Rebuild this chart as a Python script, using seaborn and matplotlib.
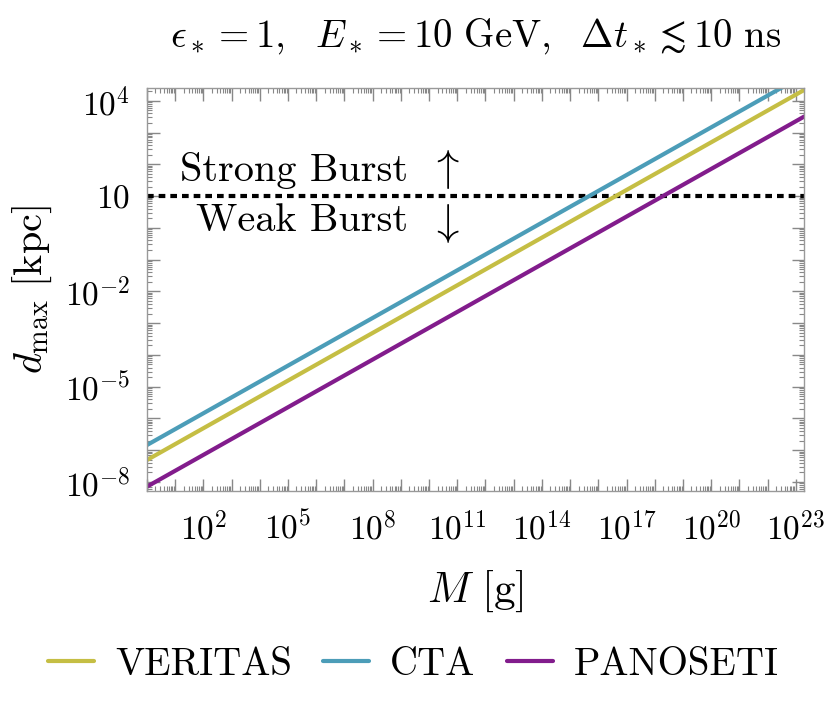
import numpy as np
import pandas as pd
import matplotlib
matplotlib.use("Agg")
import matplotlib.pyplot as plt
import matplotlib.ticker as mticker
import seaborn as sns

# mass range [g] and d_max [kpc] at both ends of each (straight, log-log) curve
mass = [1.0, 2.0e23]
d_veritas = [4.9e-8, 2.2e4]
d_cta = [1.45e-7, 6.5e4]
d_panoseti = [7.1e-9, 3.2e3]
detectors = ["VERITAS", "CTA", "PANOSETI"]
colors = ["#c5be44", "#4c9db8", "#821c8c"]
d_burst = 10.0

x_tick_exps = [2, 5, 8, 11, 14, 17, 20, 23]
y_tick_vals = [1e-8, 1e-5, 1e-2, 10, 1e4]
y_tick_labels = [r"$10^{-8}$", r"$10^{-5}$", r"$10^{-2}$", r"$10$", r"$10^{4}$"]

df = pd.DataFrame({
    "M": mass * 3,
    "d": d_veritas + d_cta + d_panoseti,
    "detector": [n for n in detectors for _ in mass],
})

sns.set_theme(style="ticks")
plt.rcParams["font.family"] = ["cmr10", "DejaVu Serif"]
plt.rcParams["mathtext.fontset"] = "cm"
plt.rcParams["axes.formatter.use_mathtext"] = True
plt.rcParams["axes.unicode_minus"] = False
plt.rcParams["text.color"] = "black"
plt.rcParams["axes.labelcolor"] = "black"


def y_fmt(v, pos):
    for t, lab in zip(y_tick_vals, y_tick_labels):
        if abs(np.log10(t) - np.log10(v)) < 0.01:
            return lab
    return ""


def x_fmt(v, pos):
    k = round(np.log10(v))
    return r"$10^{%d}$" % k if k in x_tick_exps else ""


fig = plt.figure(figsize=(8.3, 7.16), dpi=100)
ax = fig.add_axes([0.177, 0.314, 0.792, 0.563])

sns.lineplot(data=df, x="M", y="d", hue="detector", hue_order=detectors,
             palette=colors, lw=3, ax=ax, legend=True)
ax.axhline(d_burst, color="black", lw=3, dashes=(1.6, 1.2), zorder=1)

ax.set_xscale("log")
ax.set_yscale("log")
ax.set_xlim(1.0, 2.0e23)
ax.set_ylim(10 ** -8.29, 10 ** 4.4)

# every decade gets a major tick, only some get a label
ax.xaxis.set_major_locator(mticker.FixedLocator([10.0 ** k for k in range(0, 24)]))
ax.xaxis.set_major_formatter(mticker.FuncFormatter(x_fmt))
ax.yaxis.set_major_locator(mticker.FixedLocator([10.0 ** k for k in range(-9, 6)]))
ax.yaxis.set_major_formatter(mticker.FuncFormatter(y_fmt))
ax.xaxis.set_minor_locator(mticker.LogLocator(base=10, subs=np.arange(2, 10), numticks=100))
ax.yaxis.set_minor_locator(mticker.LogLocator(base=10, subs=np.arange(2, 10), numticks=100))
ax.xaxis.set_minor_formatter(mticker.NullFormatter())
ax.yaxis.set_minor_formatter(mticker.NullFormatter())

ax.tick_params(which="both", direction="in", top=True, right=True, color="#888888",
               labelcolor="black", labelsize=24)
ax.tick_params(which="major", length=9, width=1)
ax.tick_params(which="minor", length=3.6, width=0.8)
ax.tick_params(axis="x", which="major", pad=14)
ax.tick_params(axis="y", which="major", pad=12)
for s in ax.spines.values():
    s.set_color("#999999")
    s.set_linewidth(1)

ax.set_xlabel(r"$M\ [\mathrm{g}]$", fontsize=31, labelpad=16)
ax.set_ylabel(r"$d_{\max}\ [\mathrm{kpc}]$", fontsize=29, labelpad=8)
ax.set_title(r"$\epsilon_* = 1,\ \ E_* = 10\ \mathrm{GeV},\ \ \Delta t_* \lesssim 10\ \mathrm{ns}$",
             fontsize=28, pad=30)

ax.text(0.397, 0.795, "Strong Burst", transform=ax.transAxes, ha="right", va="center", fontsize=29)
ax.text(0.397, 0.670, "Weak Burst", transform=ax.transAxes, ha="right", va="center", fontsize=29)
ax.text(0.453, 0.800, r"$\uparrow$", transform=ax.transAxes, ha="center", va="center", fontsize=32)
ax.text(0.453, 0.665, r"$\downarrow$", transform=ax.transAxes, ha="center", va="center", fontsize=32)

handles, labels = ax.get_legend_handles_labels()
ax.get_legend().remove()
fig.legend(handles, labels, loc="center", bbox_to_anchor=(0.498, 0.071), ncol=3,
           frameon=False, fontsize=28, handlelength=1.18, handletextpad=0.55, columnspacing=0.8)

fig.savefig("out.png", dpi=100)
